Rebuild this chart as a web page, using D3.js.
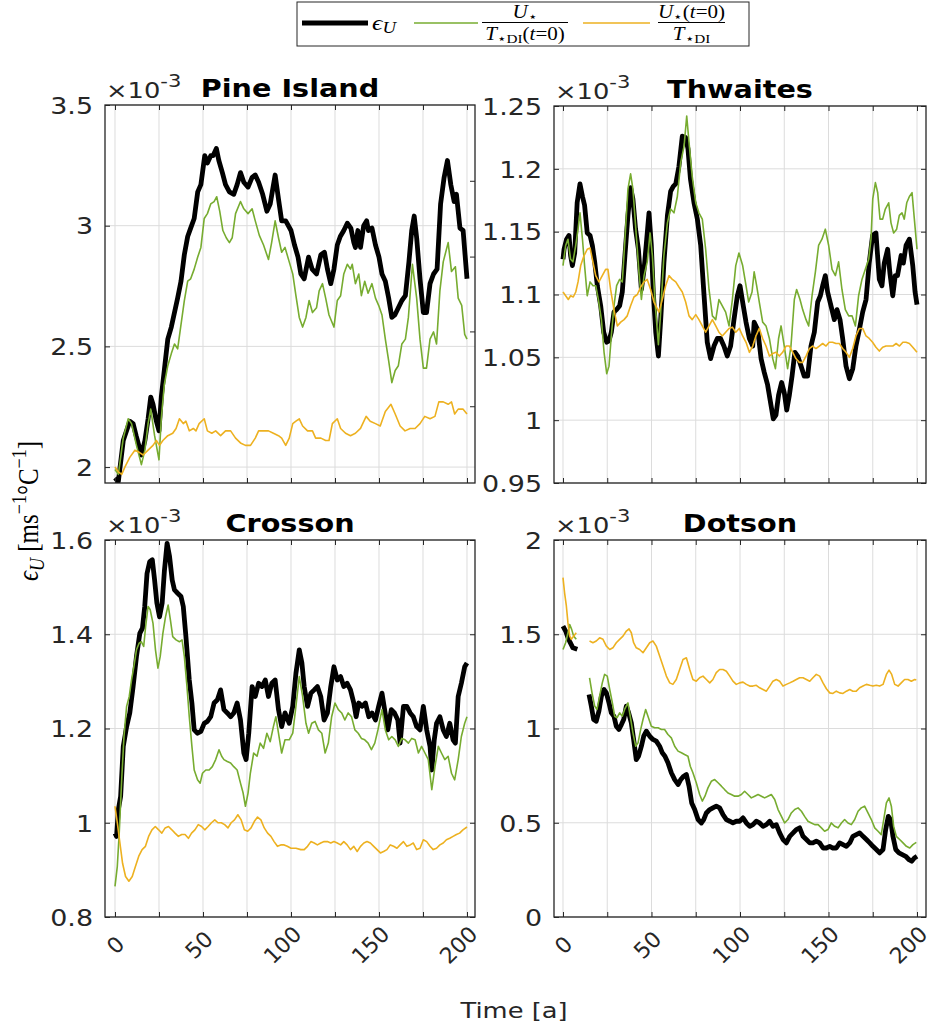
<!DOCTYPE html>
<html>
<head>
<meta charset="utf-8">
<title>Melt efficiency</title>
<script src="https://cdn.jsdelivr.net/npm/d3@7/dist/d3.min.js"></script>
<style>
  body { margin: 0; background: #fff; }
  svg text { fill: #262626; font-family: "DejaVu Sans", sans-serif; }
  .serif { font-family: "Liberation Serif", "DejaVu Serif", serif; fill: #000; }
</style>
</head>
<body>
<script>
// canvas
var width = 934, height = 1032;
var SX = 1.17; // text in the figure is drawn a bit wide

var colors = ["#000000", "#77AC30", "#EDB120"];
var lineWidths = [4.8, 1.6, 1.6];

// x axis (time in years)
var xTicks = [0, 25, 50, 75, 100, 125, 150, 175, 200];
var xTickLabels = ["0", "", "50", "", "100", "", "150", "", "200"];

// ---- data, all values x1e-3 ----
// Pine Island
var pineEps = [[0,1.955],[1.9,1.94],[4.7,2.11],[8.4,2.19],[10.3,2.18],[12,2.13],[15,2.05],[17,2.11],[18.8,2.2],[20.3,2.29],[21.6,2.26],[23.5,2.19],[25,2.15],[26.3,2.29],[28,2.4],[30,2.53],[32,2.58],[33.8,2.64],[35.6,2.7],[37.5,2.77],[39.4,2.88],[41.3,2.955],[43,2.99],[45,3.03],[47,3.14],[48.8,3.17],[51,3.29],[52.5,3.26],[54.4,3.29],[55.7,3.29],[57.6,3.32],[59,3.27],[61,3.22],[62.8,3.17],[65,3.14],[67.5,3.13],[69.4,3.17],[71.3,3.22],[73.2,3.18],[75.6,3.16],[77.9,3.2],[79.7,3.21],[81.6,3.18],[83.9,3.13],[86.3,3.06],[88.2,3.09],[91,3.21],[92.9,3.11],[94.7,3.02],[97,3.02],[100,2.98],[102,2.92],[104,2.87],[105.6,2.8],[107.5,2.78],[110,2.87],[112,2.82],[114.5,2.8],[117,2.88],[119,2.89],[120.7,2.82],[122.6,2.76],[124.4,2.82],[126.3,2.92],[128,2.955],[130,2.98],[132,3.01],[134,2.99],[135.7,2.93],[136.6,2.91],[138,2.98],[139.5,2.91],[141.3,3],[143,3.02],[144,2.98],[146,2.99],[148,2.92],[150,2.87],[151.7,2.8],[153.6,2.77],[155.5,2.7],[157.3,2.62],[159,2.63],[161,2.66],[163,2.69],[165,2.71],[167,2.85],[168.6,2.98],[170,3.04],[171.4,2.95],[173.3,2.78],[175.2,2.64],[177,2.64],[179,2.76],[181,2.8],[183,2.82],[185,3.09],[187,3.2],[188.9,3.27],[190.8,3.17],[192.7,3.1],[194,3.13],[196,2.99],[197.8,2.98],[200,2.78]];
var pineUT0 = [[0,1.99],[1.9,1.97],[4.7,2.12],[7.5,2.2],[9.4,2.18],[12.2,2.09],[15,2.01],[17,2.07],[18.8,2.18],[20.3,2.24],[22.5,2.13],[25,2.03],[26.3,2.2],[28,2.34],[30,2.42],[32,2.47],[33.8,2.51],[35.6,2.49],[37.5,2.59],[39.4,2.69],[41.3,2.77],[43,2.78],[45,2.82],[47,2.87],[48.8,2.91],[50.7,3.03],[52.5,3.05],[54.4,3.09],[56.3,3.1],[57.8,3.12],[59.5,3.06],[61.3,2.98],[63.2,2.95],[65,2.93],[66.6,2.95],[68.5,3.05],[71.3,3.1],[73.2,3.07],[75.6,3.05],[77.9,3.07],[79.7,3.02],[82,2.96],[84.4,2.92],[87.2,2.86],[89,2.93],[91,3.02],[92.9,2.95],[94.7,2.89],[96.6,2.91],[99,2.85],[101,2.8],[102.8,2.71],[104.7,2.62],[106.6,2.58],[108.5,2.62],[110.3,2.69],[112.2,2.64],[114.5,2.66],[116,2.73],[117.9,2.76],[119.7,2.7],[121.6,2.63],[124.4,2.58],[126.3,2.69],[128.2,2.71],[130,2.8],[132,2.84],[133.8,2.82],[134.8,2.84],[136.6,2.76],[138.5,2.8],[140,2.71],[141.9,2.77],[143.8,2.72],[146,2.76],[148,2.7],[149.8,2.67],[151.7,2.63],[153.6,2.53],[155.5,2.44],[157.3,2.35],[159.2,2.4],[161,2.42],[163,2.51],[165,2.53],[166.7,2.62],[169,2.84],[171.4,2.7],[173.3,2.53],[175.2,2.41],[177,2.41],[179,2.53],[181,2.56],[182.7,2.51],[184.6,2.73],[186.5,2.85],[189.3,2.93],[191.2,2.81],[193.4,2.83],[195,2.7],[197,2.67],[198.7,2.55],[200,2.53]];
var pineU0T = [[0,2.0],[1.9,1.98],[3.8,1.97],[5.6,2.0],[8.4,2.04],[11.3,2.07],[14,2.06],[16,2.05],[18.8,2.07],[21.6,2.09],[23.5,2.11],[25.3,2.09],[27.2,2.11],[30,2.13],[32.8,2.14],[34.7,2.16],[36.6,2.2],[38.8,2.18],[40.3,2.19],[42.2,2.15],[44.5,2.16],[46,2.15],[47.8,2.18],[50.7,2.2],[52.5,2.15],[55,2.14],[57.2,2.15],[60,2.13],[62.8,2.15],[65.7,2.15],[68.5,2.12],[71.3,2.1],[74.1,2.09],[77,2.09],[79.7,2.12],[81.6,2.15],[84.4,2.15],[87.2,2.15],[90,2.14],[92.9,2.13],[94.7,2.12],[97,2.09],[99,2.12],[101,2.18],[102.8,2.19],[104.7,2.2],[106.6,2.17],[109.4,2.15],[112.2,2.15],[114,2.12],[117,2.12],[119.7,2.11],[121.6,2.11],[123.5,2.18],[126.3,2.2],[128.2,2.16],[131,2.14],[133.8,2.13],[136.6,2.14],[139.5,2.16],[142.7,2.21],[145,2.19],[148,2.18],[150.7,2.17],[153.6,2.23],[156.8,2.26],[159.2,2.22],[162,2.17],[164.8,2.15],[167.7,2.16],[170.5,2.16],[173.3,2.18],[176,2.21],[179,2.2],[181.8,2.21],[184,2.27],[186.5,2.27],[189.3,2.26],[191.2,2.27],[193,2.22],[195,2.24],[197.8,2.24],[200,2.22]];

// Thwaites
var thwEps = [[0,1.128],[0.6,1.136],[2,1.144],[3.4,1.147],[4.3,1.131],[5.3,1.123],[6.6,1.133],[8,1.173],[9.6,1.188],[11,1.178],[12.2,1.171],[13.7,1.149],[15.3,1.147],[16.6,1.139],[17.9,1.126],[19.4,1.107],[21.3,1.091],[23,1.07],[24.7,1.062],[26,1.063],[27.3,1.07],[28.8,1.086],[30.3,1.088],[32,1.091],[33.5,1.102],[35,1.131],[36.7,1.163],[38.2,1.185],[39.5,1.176],[41,1.152],[42.6,1.136],[44.3,1.104],[45.8,1.12],[47.3,1.144],[48.6,1.165],[49.9,1.139],[51,1.102],[52.4,1.07],[53.9,1.051],[55.2,1.08],[57,1.125],[59,1.163],[60.8,1.182],[62.3,1.186],[63.7,1.188],[65.5,1.202],[67.4,1.226],[69.3,1.225],[70.6,1.216],[72,1.192],[74,1.173],[75.9,1.16],[77.8,1.139],[79.7,1.099],[81.5,1.062],[83.4,1.049],[85.3,1.059],[87.2,1.065],[89,1.065],[90.9,1.059],[92.8,1.051],[94.7,1.059],[96.6,1.08],[98.5,1.099],[100,1.107],[101.5,1.094],[103.4,1.078],[105.3,1.065],[107.2,1.059],[108,1.078],[110,1.072],[111.9,1.049],[113.7,1.038],[115.6,1.028],[117.5,1.012],[118.8,1.001],[120.3,1.004],[121.8,1.02],[123.5,1.03],[125,1.022],[126.4,1.008],[127.9,1.02],[129.4,1.035],[131,1.054],[132.6,1.051],[134.5,1.043],[136.3,1.035],[138.2,1.035],[140.1,1.059],[142,1.07],[143.9,1.094],[145.4,1.099],[146.7,1.107],[148.2,1.115],[149.5,1.102],[151.4,1.091],[153.3,1.08],[154.8,1.088],[156.5,1.08],[158,1.065],[159.9,1.043],[161.8,1.033],[163.7,1.041],[165.5,1.059],[167.4,1.072],[169.3,1.086],[171.2,1.096],[173,1.125],[174.9,1.147],[176.8,1.149],[178.7,1.112],[180.2,1.107],[181.5,1.125],[183.4,1.136],[184.7,1.117],[186.3,1.099],[187.7,1.115],[189,1.115],[191,1.131],[192.3,1.125],[193.8,1.139],[195.7,1.144],[197.6,1.123],[198.9,1.102],[200,1.092]];
var thwUT0 = [[0,1.123],[1.5,1.139],[2.8,1.144],[4.3,1.128],[5.6,1.126],[7.2,1.139],[8.5,1.152],[9.6,1.165],[11,1.144],[12.2,1.123],[13.7,1.099],[15.3,1.11],[17,1.107],[18.5,1.107],[20,1.096],[21.7,1.08],[23.2,1.054],[24.7,1.037],[26,1.043],[27.3,1.067],[28.8,1.091],[30.3,1.107],[32,1.112],[33.5,1.11],[35,1.144],[36.7,1.184],[38.2,1.196],[39.5,1.184],[41,1.155],[42.9,1.118],[44.3,1.096],[45.8,1.115],[47.6,1.126],[49.2,1.149],[50.5,1.131],[52,1.094],[53.9,1.06],[55.2,1.086],[57,1.131],[59,1.157],[60.8,1.168],[62.7,1.165],[64.6,1.178],[66.5,1.205],[68.4,1.218],[69.9,1.242],[71.2,1.221],[73,1.194],[75,1.173],[76.8,1.165],[78.7,1.16],[80.6,1.136],[82.5,1.104],[84.4,1.083],[86.3,1.08],[88.1,1.096],[90,1.091],[91.9,1.086],[93.8,1.075],[95.7,1.096],[97.6,1.123],[99.4,1.133],[101.5,1.123],[103.4,1.107],[104.9,1.094],[106.8,1.102],[108,1.118],[109.4,1.107],[110.9,1.094],[112.8,1.078],[114.7,1.075],[116.6,1.065],[118.5,1.049],[120,1.041],[121.8,1.065],[123.2,1.075],[125,1.059],[126.9,1.041],[128.8,1.059],[130.7,1.096],[132,1.104],[133.9,1.096],[135.4,1.088],[137.3,1.08],[138.8,1.075],[140.7,1.099],[142.6,1.118],[144.4,1.139],[146.3,1.144],[148.2,1.152],[150.1,1.139],[152,1.12],[153.9,1.115],[155.7,1.126],[157.6,1.104],[159.5,1.088],[161.4,1.083],[163.3,1.083],[165.2,1.075],[167,1.099],[168.9,1.112],[170.8,1.12],[172.7,1.128],[174,1.144],[175,1.176],[176.5,1.189],[177.8,1.181],[179.1,1.16],[180.6,1.16],[182.1,1.168],[184,1.173],[185.3,1.157],[186.8,1.149],[188.5,1.152],[190,1.163],[191.5,1.165],[192.8,1.16],[194.2,1.173],[195.7,1.178],[197.2,1.181],[198.5,1.16],[200,1.136]];
var thwU0T = [[0,1.102],[1.5,1.099],[3,1.096],[4.3,1.099],[5.8,1.098],[7.2,1.102],[8.5,1.11],[10,1.123],[11.9,1.131],[13.7,1.136],[15.3,1.137],[16.6,1.128],[18.5,1.115],[20.3,1.11],[22.2,1.115],[24.1,1.12],[25.4,1.12],[26.9,1.104],[28.8,1.088],[30.7,1.075],[32.6,1.078],[34.5,1.08],[36.3,1.083],[38.2,1.091],[40.1,1.098],[42,1.1],[43.9,1.106],[45.8,1.11],[47.6,1.112],[49.5,1.104],[51.4,1.094],[54.2,1.086],[56.1,1.096],[58,1.107],[59.9,1.115],[61.8,1.112],[63.7,1.11],[65.5,1.106],[67.4,1.102],[69.3,1.094],[71.2,1.083],[73,1.08],[75,1.084],[76.8,1.08],[78.7,1.075],[80.6,1.07],[82.5,1.075],[84.4,1.08],[86.3,1.075],[88.1,1.07],[90,1.067],[91.9,1.07],[93.8,1.073],[95.7,1.074],[97.6,1.07],[99.6,1.073],[101.5,1.067],[103.4,1.062],[105.3,1.054],[107.2,1.059],[109,1.067],[110.9,1.073],[112.8,1.065],[114.7,1.059],[116.6,1.051],[118.5,1.053],[120.3,1.054],[122.2,1.051],[124.1,1.054],[126,1.059],[127.9,1.059],[129.8,1.054],[131.6,1.049],[133.5,1.046],[135.4,1.046],[137.3,1.051],[139.2,1.057],[141,1.059],[142.9,1.057],[144.8,1.059],[146.7,1.061],[148.6,1.059],[150.4,1.062],[152.3,1.062],[154.2,1.061],[156.1,1.061],[158,1.057],[159.9,1.054],[161.8,1.05],[163.7,1.057],[165.5,1.067],[167.4,1.073],[169.3,1.073],[171.2,1.067],[173,1.065],[174.9,1.062],[176.8,1.058],[178.7,1.055],[180.6,1.058],[182.5,1.059],[184.4,1.059],[186.3,1.059],[188.2,1.061],[190.1,1.059],[192,1.062],[193.8,1.062],[195.7,1.061],[197.6,1.058],[200,1.054]];

// Crosson
var croEps = [[0,0.978],[0.9,0.971],[1.9,1.028],[3.2,1.056],[4.7,1.162],[6.6,1.204],[8.4,1.233],[10.3,1.289],[12.2,1.353],[14.1,1.402],[15.6,1.413],[16.9,1.459],[18.2,1.529],[19.7,1.554],[21.2,1.558],[22.5,1.515],[23.8,1.466],[25.3,1.437],[26.8,1.466],[28.1,1.536],[29.6,1.593],[31,1.565],[32.5,1.515],[33.8,1.494],[35.6,1.487],[37.5,1.48],[38.8,1.459],[40.3,1.395],[42.2,1.303],[43.7,1.254],[45,1.197],[46.9,1.19],[48.8,1.194],[50.7,1.211],[52.5,1.215],[54.4,1.225],[56.3,1.254],[58.2,1.261],[60,1.282],[61.9,1.24],[63.8,1.233],[65.7,1.225],[67.5,1.233],[69.4,1.254],[71.3,1.218],[73.2,1.148],[74.5,1.134],[76,1.19],[77.9,1.289],[79.7,1.268],[81.6,1.296],[83.5,1.289],[85.4,1.303],[87.2,1.268],[89.1,1.296],[91,1.303],[92.9,1.24],[94.7,1.204],[96.6,1.233],[99,1.211],[101,1.247],[102.8,1.317],[104.7,1.367],[106.2,1.339],[107.5,1.289],[109.4,1.247],[111.3,1.275],[113.2,1.282],[115,1.289],[116.9,1.268],[118.8,1.218],[120.7,1.233],[122.6,1.289],[124.4,1.331],[126.3,1.303],[128.2,1.31],[130,1.289],[131.9,1.296],[133.8,1.282],[135.7,1.254],[137,1.225],[138.5,1.254],[140.4,1.247],[142.3,1.254],[144.2,1.225],[146,1.233],[148,1.218],[149.8,1.247],[151.7,1.275],[153.2,1.24],[155,1.197],[157,1.24],[158.8,1.233],[160.7,1.218],[162,1.169],[163.9,1.247],[165.8,1.247],[167.7,1.233],[169.5,1.225],[171.4,1.204],[173.3,1.197],[175.2,1.247],[177.1,1.197],[179,1.162],[180,1.112],[181.4,1.176],[182.7,1.211],[184.6,1.225],[186.5,1.197],[188.3,1.183],[190.2,1.211],[192.1,1.176],[193.4,1.169],[195,1.268],[196.8,1.296],[198.7,1.331],[200,1.339]];
var croUT0 = [[0,0.865],[1.3,0.907],[2.4,0.978],[3.8,1.091],[5.1,1.183],[6.6,1.247],[8.1,1.268],[9.4,1.303],[10.7,1.331],[12.2,1.367],[13.7,1.381],[15,1.384],[16.3,1.374],[17.4,1.416],[18.8,1.459],[20,1.452],[21.6,1.423],[23,1.367],[24.4,1.328],[25.7,1.353],[27.2,1.402],[28.7,1.437],[30.2,1.462],[31.5,1.43],[32.8,1.395],[34.7,1.388],[36.6,1.384],[38.1,1.388],[39.4,1.353],[40.9,1.289],[42.2,1.225],[43.7,1.162],[45,1.112],[46.9,1.091],[48.4,1.084],[49.7,1.105],[51.6,1.112],[53.5,1.112],[55.3,1.119],[57.2,1.134],[59.1,1.155],[60.6,1.141],[61.9,1.134],[63.8,1.13],[65.7,1.127],[67.5,1.119],[69.4,1.112],[71.3,1.084],[72.8,1.063],[74.1,1.035],[75.6,1.063],[76.9,1.105],[78.8,1.148],[80.7,1.141],[82.5,1.169],[84.4,1.158],[86.3,1.19],[88.2,1.172],[90,1.204],[91.4,1.225],[92.9,1.19],[94.7,1.148],[96.6,1.176],[99,1.176],[101,1.19],[102.8,1.247],[104.7,1.31],[106.6,1.268],[108.5,1.211],[110,1.19],[111.8,1.211],[113.7,1.215],[115.6,1.197],[117.5,1.19],[119.4,1.148],[121.2,1.169],[123.1,1.225],[125,1.254],[126.9,1.24],[128.8,1.233],[130.6,1.218],[132.5,1.233],[134.4,1.225],[136.3,1.197],[138.2,1.19],[140,1.179],[141.9,1.176],[143.8,1.169],[145.7,1.155],[147.6,1.169],[149.4,1.197],[151.7,1.24],[153.6,1.197],[155.5,1.176],[157.3,1.183],[159.2,1.176],[161,1.162],[163,1.179],[164.8,1.176],[166.7,1.169],[168.6,1.179],[170.5,1.176],[172.4,1.148],[174.2,1.162],[176.1,1.148],[178,1.134],[180,1.07],[181.8,1.119],[183.7,1.162],[185.5,1.148],[187.4,1.134],[189.3,1.141],[191.2,1.105],[193,1.091],[195,1.134],[196.8,1.183],[198.7,1.211],[200,1.225]];
var croU0T = [[0,1.035],[1.3,1.0],[2.8,0.957],[4.3,0.914],[6,0.886],[7.9,0.876],[9.8,0.886],[11.6,0.907],[13.5,0.929],[15.4,0.943],[17.3,0.95],[19.1,0.971],[21,0.985],[22.9,0.992],[24.8,0.985],[26.6,0.978],[28.5,0.989],[30.4,0.992],[32.3,0.985],[34.1,0.978],[36,0.971],[37.9,0.975],[39.8,0.975],[41.7,0.967],[43.5,0.978],[45.4,0.985],[47.3,0.996],[49.2,0.992],[51,0.985],[52.9,0.992],[54.8,1.0],[56.7,1.006],[58.5,1.0],[60.4,1.0],[62.3,0.996],[64.2,0.989],[66,1.0],[67.9,1.006],[69.8,1.017],[71.7,1.006],[73.5,0.985],[75.4,0.982],[77.3,0.989],[79.2,1.003],[81,1.012],[82.9,1.006],[84.8,0.989],[86.7,0.978],[88.6,0.971],[90.4,0.96],[92.3,0.95],[94.2,0.953],[96.1,0.953],[97.9,0.95],[100,0.946],[102.8,0.946],[105.6,0.943],[107.5,0.943],[109.4,0.95],[111.3,0.96],[113.2,0.957],[115,0.953],[116.9,0.957],[118.8,0.96],[120.7,0.96],[122.6,0.957],[124.4,0.96],[126.3,0.957],[128.2,0.953],[130,0.96],[131.9,0.953],[133.8,0.943],[135.7,0.95],[137.6,0.939],[139.5,0.95],[141.4,0.957],[143.2,0.96],[145.1,0.957],[147,0.95],[148.9,0.943],[150.8,0.936],[152.6,0.939],[154.5,0.943],[156.4,0.953],[158.3,0.95],[160.2,0.946],[162,0.953],[163.9,0.96],[165.8,0.95],[167.7,0.953],[169.5,0.957],[171.4,0.943],[173.3,0.946],[175.2,0.964],[177.1,0.96],[179,0.95],[180.8,0.943],[182.7,0.946],[184.6,0.953],[186.5,0.957],[188.3,0.964],[190.2,0.967],[192.1,0.971],[194,0.975],[195.8,0.978],[197.7,0.985],[200,0.991]];

// Dotson (null = missing years)
var dotEps = [[0,1.543],[1.5,1.517],[2.8,1.481],[4.1,1.455],[5.6,1.428],[7.2,1.423],[8.1,1.42],null,[14.7,1.18],[16,1.119],[17.3,1.048],[18.8,1.039],[20.3,1.092],[21.7,1.172],[23.2,1.207],[24.5,1.189],[26,1.136],[27.3,1.083],[28.8,1.065],[30.1,1.012],[31.6,0.995],[33,1.021],[34.3,1.048],[35.8,1.119],[37.1,1.083],[38.6,1.03],[39.9,0.942],[41.4,0.835],[42.7,0.853],[44.3,0.906],[45.6,0.959],[47.1,0.986],[49,0.959],[50.8,0.942],[52.7,0.933],[54.6,0.906],[56.1,0.871],[57.6,0.853],[59.3,0.818],[61.2,0.765],[63.1,0.729],[65,0.703],[66.5,0.729],[68.2,0.747],[69.7,0.756],[71.2,0.694],[72.7,0.605],[74.4,0.57],[76.3,0.517],[78.2,0.499],[79.5,0.517],[81,0.552],[82.9,0.57],[84.7,0.579],[86.6,0.588],[88.5,0.579],[90.4,0.543],[92.3,0.517],[94.2,0.508],[96,0.499],[97.9,0.508],[99.8,0.508],[101.7,0.526],[103.6,0.499],[105.5,0.481],[107.3,0.49],[109.2,0.508],[111.1,0.499],[113,0.481],[114.9,0.49],[116.8,0.508],[118.6,0.481],[120.5,0.49],[122.4,0.446],[124.3,0.411],[126.2,0.393],[128.1,0.428],[130,0.446],[131.8,0.464],[133.7,0.473],[135.6,0.428],[137.5,0.411],[139.4,0.393],[141.2,0.393],[143.1,0.402],[145,0.393],[146.9,0.366],[148.8,0.366],[150.7,0.375],[152.5,0.366],[154.4,0.366],[156.3,0.393],[158.2,0.384],[160.1,0.375],[162,0.393],[163.8,0.428],[165.7,0.437],[167.6,0.446],[169.5,0.428],[171.4,0.411],[173.3,0.393],[175.1,0.375],[177,0.358],[178.9,0.34],[180.8,0.358],[182.3,0.464],[183.8,0.534],[185.1,0.517],[186.4,0.428],[188,0.358],[189.8,0.34],[191.7,0.331],[193.6,0.322],[195.5,0.304],[197,0.296],[198.5,0.313],[200,0.322]];
var dotUT0 = [[0,1.419],[1.5,1.455],[2.8,1.508],[3.8,1.552],[4.9,1.526],[6,1.49],[7.5,1.473],null,[15,1.269],[16.4,1.189],[17.9,1.119],[19.2,1.101],[20.7,1.172],[22.2,1.242],[23.5,1.287],[25,1.278],[26.4,1.207],[27.9,1.136],[29.2,1.065],[30.5,1.057],[32,1.083],[33.5,1.065],[34.8,1.101],[36.7,1.136],[38,1.065],[39.5,0.977],[41.1,0.906],[42.4,0.924],[43.9,0.995],[45.2,1.048],[46.7,1.101],[48,1.065],[49.9,1.012],[51.8,1.004],[53.7,1.004],[55.6,0.995],[57.4,0.995],[59.3,0.968],[61.2,0.95],[63.1,0.906],[65,0.88],[66.9,0.871],[68.7,0.862],[70.6,0.853],[71.9,0.8],[73.4,0.765],[75.3,0.712],[77.2,0.65],[78.7,0.615],[80.2,0.641],[81.9,0.685],[83.8,0.72],[85.7,0.729],[87.6,0.712],[89.5,0.694],[91.3,0.676],[93.2,0.658],[95.1,0.65],[97,0.641],[98.9,0.641],[100.8,0.65],[102.6,0.667],[104.5,0.65],[106.4,0.632],[108.3,0.641],[110.2,0.65],[112.1,0.641],[113.9,0.632],[115.8,0.641],[117.7,0.65],[119.6,0.623],[121.5,0.57],[123.4,0.534],[125.2,0.499],[127.1,0.517],[129,0.552],[130.9,0.57],[132.8,0.579],[134.7,0.561],[136.5,0.534],[138.4,0.508],[140.3,0.499],[142.2,0.49],[144.1,0.49],[146,0.473],[147.8,0.455],[149.7,0.464],[151.6,0.499],[153.5,0.481],[155.4,0.473],[157.3,0.499],[159.1,0.517],[161,0.499],[162.9,0.49],[164.8,0.517],[166.7,0.561],[168.5,0.579],[170.4,0.588],[172.3,0.552],[174.2,0.517],[176.1,0.473],[178,0.455],[179.8,0.437],[181.2,0.517],[182.7,0.605],[184.2,0.632],[185.5,0.588],[186.8,0.481],[188.3,0.428],[190.2,0.411],[192.1,0.393],[194,0.375],[195.9,0.366],[197.7,0.384],[199.6,0.396]];
var dotU0T = [[0,1.8],[0.9,1.72],[1.9,1.65],[2.8,1.56],[3.8,1.49],[4.7,1.473],[6,1.49],[7.5,1.508],null,[15,1.464],[16.9,1.455],[18.8,1.464],[20.7,1.481],[22.6,1.473],[24.5,1.437],[26.4,1.419],[28.2,1.428],[30.1,1.455],[32,1.473],[33.9,1.49],[35.8,1.517],[37.3,1.529],[38.6,1.508],[39.9,1.455],[41.4,1.428],[43.3,1.419],[45.2,1.402],[47.1,1.428],[49,1.455],[50.8,1.464],[52.7,1.437],[54.6,1.384],[56.5,1.331],[58.4,1.278],[60.3,1.242],[62.1,1.234],[64,1.26],[65.9,1.313],[67.8,1.366],[69.7,1.375],[71.6,1.313],[73.4,1.26],[75.3,1.251],[77.2,1.269],[79.1,1.278],[81,1.26],[82.9,1.242],[84.7,1.26],[86.6,1.296],[88.5,1.313],[90.4,1.313],[92.3,1.304],[94.2,1.278],[96,1.251],[97.9,1.234],[99.8,1.242],[101.7,1.246],[103.6,1.234],[105.5,1.225],[107.3,1.225],[109.2,1.229],[111.1,1.216],[113,1.207],[114.9,1.198],[116.8,1.225],[118.6,1.251],[120.5,1.26],[122.4,1.251],[124.3,1.225],[126.2,1.234],[128.1,1.242],[130,1.251],[131.8,1.26],[133.7,1.269],[135.6,1.269],[137.5,1.26],[139.4,1.251],[141.2,1.269],[143.1,1.287],[145,1.278],[146.9,1.242],[148.8,1.211],[150.7,1.189],[152.5,1.186],[154.4,1.198],[156.3,1.189],[158.2,1.186],[160.1,1.198],[162,1.207],[163.8,1.198],[165.7,1.198],[167.6,1.216],[169.5,1.225],[171.4,1.234],[173.3,1.229],[175.1,1.225],[177,1.229],[178.9,1.225],[180.8,1.234],[182.7,1.287],[184.2,1.31],[185.7,1.287],[187.4,1.234],[189.3,1.225],[191.1,1.242],[193,1.26],[194.9,1.26],[196.8,1.251],[198.7,1.26],[199.6,1.257]];

// panel setup: screen box, axis limits, y ticks
var panels = [
  { title: "Pine Island", box: [105, 105, 475, 483], xDom: [-5.68, 204.55], yDom: [1.934, 3.5],
    yTicks: [2, 2.5, 3, 3.5], yLabels: ["2", "2.5", "3", "3.5"], rightTicks: [2.252, 2.562, 2.872, 3.186],
    showX: false, series: [pineEps, pineUT0, pineU0T] },
  { title: "Thwaites", box: [554, 106, 926, 483], xDom: [-5.08, 205.08], yDom: [0.95, 1.25],
    yTicks: [0.95, 1, 1.05, 1.1, 1.15, 1.2, 1.25], yLabels: ["0.95", "1", "1.05", "1.1", "1.15", "1.2", "1.25"],
    showX: false, series: [thwEps, thwUT0, thwU0T] },
  { title: "Crosson", box: [105, 540, 475, 917], xDom: [-5.68, 204.55], yDom: [0.8, 1.6],
    yTicks: [0.8, 1, 1.2, 1.4, 1.6], yLabels: ["0.8", "1", "1.2", "1.4", "1.6"],
    showX: true, series: [croEps, croUT0, croU0T] },
  { title: "Dotson", box: [554, 540, 926, 917], xDom: [-5.08, 205.08], yDom: [0, 2],
    yTicks: [0, 0.5, 1, 1.5, 2], yLabels: ["0", "0.5", "1", "1.5", "2"],
    showX: true, series: [dotEps, dotUT0, dotU0T] }
];

var svg = d3.select("body").append("svg")
  .attr("width", width)
  .attr("height", height);

svg.append("rect").attr("width", width).attr("height", height).attr("fill", "#fff");

function wide(x, y, rot) {
  return "translate(" + x + "," + y + ") scale(" + SX + ",1)" + (rot ? " rotate(" + rot + ")" : "");
}

panels.forEach(function(p, i) {
  var x0 = p.box[0], y0 = p.box[1], x1 = p.box[2], y1 = p.box[3];
  var x = d3.scaleLinear().domain(p.xDom).range([x0, x1]);
  var y = d3.scaleLinear().domain(p.yDom).range([y1, y0]);
  var g = svg.append("g");

  g.append("clipPath").attr("id", "clip" + i)
    .append("rect").attr("x", x0).attr("y", y0).attr("width", x1 - x0).attr("height", y1 - y0);

  // grid
  g.append("g").selectAll("line").data(xTicks).enter().append("line")
    .attr("x1", function(d) { return x(d); }).attr("x2", function(d) { return x(d); })
    .attr("y1", y0).attr("y2", y1)
    .attr("stroke", "#dcdcdc").attr("stroke-width", 1);
  g.append("g").selectAll("line").data(p.yTicks).enter().append("line")
    .attr("x1", x0).attr("x2", x1)
    .attr("y1", function(d) { return y(d); }).attr("y2", function(d) { return y(d); })
    .attr("stroke", "#dcdcdc").attr("stroke-width", 1);

  // the three series
  var line = d3.line()
    .defined(function(d) { return d != null; })
    .x(function(d) { return x(d[0]); })
    .y(function(d) { return y(d[1]); });

  g.append("g").attr("clip-path", "url(#clip" + i + ")")
    .selectAll("path").data(p.series).enter().append("path")
    .attr("d", line)
    .attr("fill", "none")
    .attr("stroke", function(d, k) { return colors[k]; })
    .attr("stroke-width", function(d, k) { return lineWidths[k]; })
    .attr("stroke-linejoin", "round");

  // axes, ticks pointing inwards
  var bottom = g.append("g").attr("transform", "translate(0," + y1 + ")")
    .call(d3.axisBottom(x).tickValues(xTicks).tickSizeInner(-5).tickSizeOuter(0)
      .tickFormat(function(d, k) { return p.showX ? xTickLabels[k] : ""; }));
  bottom.selectAll("text")
    .attr("x", null).attr("y", null).attr("dy", "0.35em")
    .attr("text-anchor", "middle")
    .attr("font-size", 22)
    .attr("transform", function(d, k) {
      var n = xTickLabels[k].length;
      return "translate(" + (-Math.max(0, n - 1) * 4.5) + ",28) rotate(-45)";
    });

  g.append("g").attr("transform", "translate(0," + y0 + ")")
    .call(d3.axisTop(x).tickValues(xTicks).tickSizeInner(-5).tickSizeOuter(0).tickFormat(""));

  var left = g.append("g").attr("transform", "translate(" + x0 + ",0)")
    .call(d3.axisLeft(y).tickValues(p.yTicks).tickSizeInner(-5).tickSizeOuter(0)
      .tickFormat(function(d, k) { return p.yLabels[k]; }));
  left.selectAll("text")
    .attr("x", null).attr("dy", "0.36em")
    .attr("font-size", 23)
    .attr("transform", wide(-12, 0));

  g.append("g").attr("transform", "translate(" + x1 + ",0)")
    .call(d3.axisRight(y).tickValues(p.rightTicks || p.yTicks).tickSizeInner(-5).tickSizeOuter(0).tickFormat(""));

  g.selectAll(".domain").remove();
  g.selectAll(".tick line").attr("stroke", "#262626").attr("stroke-width", 1);

  g.append("rect")
    .attr("x", x0).attr("y", y0).attr("width", x1 - x0).attr("height", y1 - y0)
    .attr("fill", "none").attr("stroke", "#262626").attr("stroke-width", 1.3);

  // exponent
  var ex = g.append("text").attr("transform", wide(x0 + 1, y0 - 7)).attr("font-size", 22);
  ex.append("tspan").text("\u00d710");
  ex.append("tspan").attr("dy", -11).attr("font-size", 18).text("-3");

  // title
  g.append("text")
    .attr("transform", wide((x0 + x1) / 2, y0 - 8))
    .attr("text-anchor", "middle")
    .attr("font-size", 24.5).attr("font-weight", "bold")
    .style("fill", "#000")
    .text(p.title);
});

// shared x label
svg.append("text")
  .attr("transform", wide(514, 1018))
  .attr("text-anchor", "middle")
  .attr("font-size", 22)
  .text("Time [a]");

// shared y label
var yl = svg.append("text").attr("class", "serif")
  .attr("transform", wide(38, 511, -90))
  .attr("text-anchor", "middle")
  .attr("font-size", 25);
yl.append("tspan").attr("font-style", "italic").text("\u03f5");
yl.append("tspan").attr("font-style", "italic").attr("font-size", 18).attr("dy", 5).text("U");
yl.append("tspan").attr("dy", -5).text(" [ms");
yl.append("tspan").attr("font-size", 18).attr("dy", -10).text("\u22121");
yl.append("tspan").attr("dy", 10).text("\u00b0C");
yl.append("tspan").attr("font-size", 18).attr("dy", -10).text("\u22121");
yl.append("tspan").attr("dy", 10).text("]");

// legend
var lg = svg.append("g");
lg.append("rect").attr("x", 297).attr("y", 2).attr("width", 452).attr("height", 44)
  .attr("fill", "#fff").attr("stroke", "#262626").attr("stroke-width", 1);

var legendLines = [[302, 368], [414, 478], [583, 650]];
lg.selectAll("line").data(legendLines).enter().append("line")
  .attr("x1", function(d) { return d[0]; }).attr("x2", function(d) { return d[1]; })
  .attr("y1", 23).attr("y2", 23)
  .attr("stroke", function(d, k) { return colors[k]; })
  .attr("stroke-width", function(d, k) { return lineWidths[k]; });

var t1 = lg.append("text").attr("class", "serif").attr("transform", wide(372, 30)).attr("font-size", 22);
t1.append("tspan").attr("font-style", "italic").text("\u03f5");
t1.append("tspan").attr("font-style", "italic").attr("font-size", 16).attr("dy", 3).text("U");

function fraction(cx, barW, num, den) {
  var n = lg.append("text").attr("class", "serif").attr("transform", wide(cx, 18))
    .attr("text-anchor", "middle").attr("font-size", 18);
  num(n);
  lg.append("line").attr("x1", cx - barW / 2).attr("x2", cx + barW / 2)
    .attr("y1", 22.5).attr("y2", 22.5).attr("stroke", "#000").attr("stroke-width", 1);
  var d = lg.append("text").attr("class", "serif").attr("transform", wide(cx, 40))
    .attr("text-anchor", "middle").attr("font-size", 18);
  den(d);
}

function tStar(s) {
  s.append("tspan").attr("font-style", "italic").text("T");
  s.append("tspan").attr("font-size", 13).attr("dy", 3).text("\u22c6DI");
}

fraction(525, 86, function(s) {
  s.append("tspan").attr("font-style", "italic").text("U");
  s.append("tspan").attr("font-size", 13).attr("dy", 3).text("\u22c6");
}, function(s) {
  tStar(s);
  s.append("tspan").attr("dy", -3).text("(");
  s.append("tspan").attr("font-style", "italic").text("t");
  s.append("tspan").text("=0)");
});

fraction(691.5, 67, function(s) {
  s.append("tspan").attr("font-style", "italic").text("U");
  s.append("tspan").attr("font-size", 13).attr("dy", 3).text("\u22c6");
  s.append("tspan").attr("dy", -3).text("(");
  s.append("tspan").attr("font-style", "italic").text("t");
  s.append("tspan").text("=0)");
}, function(s) {
  tStar(s);
});
</script>
</body>
</html>
